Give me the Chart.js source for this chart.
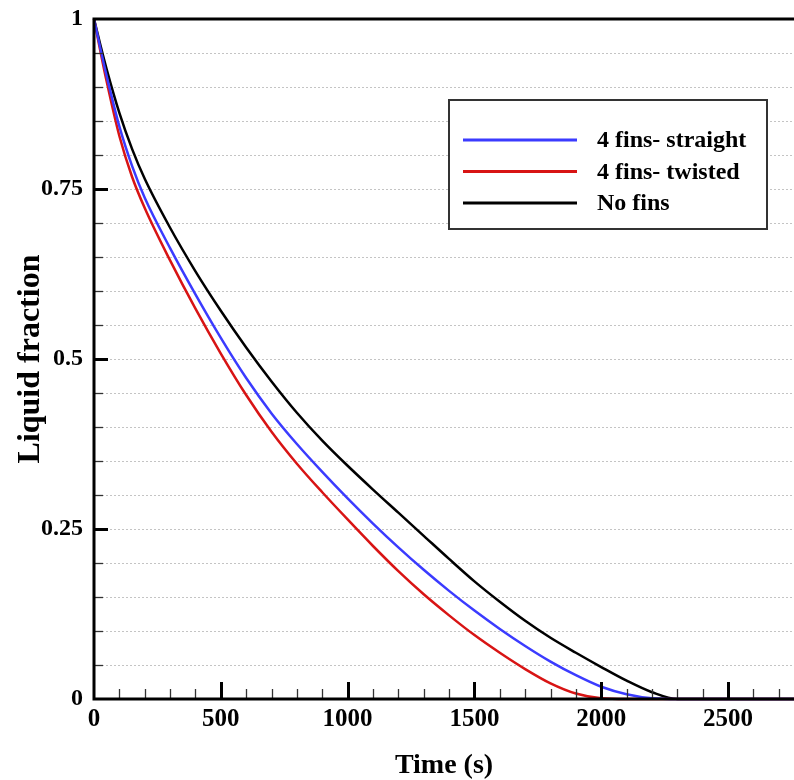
<!DOCTYPE html>
<html>
<head>
<meta charset="utf-8">
<script src="https://cdn.jsdelivr.net/npm/chart.js@4.4.0/dist/chart.umd.min.js"></script>
<style>
  html, body { margin: 0; padding: 0; background: #fff; }
  #wrap { width: 794px; height: 780px; }
</style>
</head>
<body>
<div id="wrap"><canvas id="chart" width="794" height="780"></canvas></div>
<script>
// values
const timeSec = [0, 25, 50, 100, 150, 200, 300, 400, 500, 600, 700, 800, 900, 1000, 1100, 1200, 1300, 1400, 1500, 1600, 1700, 1800, 1900, 2000, 2100, 2200, 2300, 2500, 2760];
const straightFins = [1, 0.957, 0.916, 0.842, 0.784, 0.737, 0.663, 0.595, 0.531, 0.472, 0.42, 0.375, 0.334, 0.295, 0.258, 0.223, 0.19, 0.159, 0.13, 0.103, 0.078, 0.055, 0.035, 0.018, 0.007, 0.001, 0, 0, 0];
const twistedFins = [1, 0.953, 0.908, 0.828, 0.768, 0.722, 0.645, 0.574, 0.508, 0.447, 0.393, 0.346, 0.304, 0.264, 0.225, 0.188, 0.154, 0.123, 0.094, 0.068, 0.044, 0.023, 0.008, 0.001, 0, 0, 0, 0, 0];
const noFins = [1, 0.962, 0.926, 0.862, 0.809, 0.765, 0.693, 0.629, 0.571, 0.517, 0.467, 0.421, 0.38, 0.343, 0.308, 0.274, 0.24, 0.206, 0.173, 0.143, 0.115, 0.09, 0.068, 0.047, 0.027, 0.01, 0, 0, 0];

const seriesLabels = ['4 fins- straight', '4 fins- twisted', 'No fins'];
const seriesColors = ['#3b3bff', '#d81414', '#000000'];
const xTickValues = [0, 500, 1000, 1500, 2000, 2500];
const yTickValues = [0, 0.25, 0.5, 0.75, 1];

const serif = '"Liberation Serif", "Times New Roman", serif';

function toPoints(vals) {
  return timeSec.map((t, i) => ({ x: t, y: vals[i] }));
}

// dotted grid, thick frame and inward ticks like the original plot
const framePlugin = {
  id: 'frame',
  beforeDatasetsDraw(chart) {
    const { ctx, chartArea: a, scales: { y } } = chart;
    ctx.save();
    ctx.strokeStyle = '#c4c4c4';
    ctx.lineWidth = 1;
    ctx.setLineDash([2, 2]);
    for (let i = 1; i < 20; i++) {
      const py = Math.round(y.getPixelForValue(i * 0.05)) + 0.5;
      ctx.beginPath();
      ctx.moveTo(a.left, py);
      ctx.lineTo(a.right, py);
      ctx.stroke();
    }
    ctx.restore();
  },
  afterDatasetsDraw(chart) {
    const { ctx, chartArea: a, scales: { x, y } } = chart;
    ctx.save();

    // x ticks every 100 s, pointing up
    for (let t = 100; t <= 2700; t += 100) {
      const px = Math.round(x.getPixelForValue(t)) + 0.5;
      const major = t % 500 === 0;
      ctx.lineWidth = major ? 3 : 1.3;
      ctx.strokeStyle = major ? '#000' : '#333';
      ctx.beginPath();
      ctx.moveTo(px, a.bottom);
      ctx.lineTo(px, a.bottom - (major ? 17 : 10));
      ctx.stroke();
    }
    // y ticks every 0.05, pointing right
    for (let i = 1; i < 20; i++) {
      const py = Math.round(y.getPixelForValue(i * 0.05)) + 0.5;
      const major = i % 5 === 0;
      ctx.lineWidth = major ? 3 : 1.3;
      ctx.strokeStyle = major ? '#000' : '#333';
      ctx.beginPath();
      ctx.moveTo(a.left, py);
      ctx.lineTo(a.left + (major ? 14 : 9), py);
      ctx.stroke();
    }

    ctx.strokeStyle = '#000';
    ctx.lineWidth = 3;
    ctx.beginPath();
    ctx.moveTo(a.right, a.top);
    ctx.lineTo(a.left, a.top);
    ctx.lineTo(a.left, a.bottom);
    ctx.lineTo(a.right, a.bottom);
    ctx.stroke();
    ctx.restore();
  },
  afterDraw(chart) {
    const ctx = chart.ctx;
    const box = { left: 449, top: 100, width: 318, height: 129 };
    ctx.save();
    ctx.fillStyle = '#fff';
    ctx.fillRect(box.left, box.top, box.width, box.height);
    ctx.strokeStyle = '#333';
    ctx.lineWidth = 2;
    ctx.strokeRect(box.left, box.top, box.width, box.height);

    ctx.font = 'bold 24px ' + serif;
    ctx.textBaseline = 'middle';
    ctx.textAlign = 'left';
    chart.data.datasets.forEach((ds, i) => {
      const ly = 140 + i * 31.5;
      ctx.strokeStyle = ds.borderColor;
      ctx.lineWidth = 3;
      ctx.beginPath();
      ctx.moveTo(463, ly);
      ctx.lineTo(577, ly);
      ctx.stroke();
      ctx.fillStyle = '#000';
      ctx.fillText(ds.label, 597, ly + 1);
    });
    ctx.restore();
  }
};

const ctx = document.getElementById('chart').getContext('2d');
const chart = new Chart(ctx, {
  type: 'line',
  data: {
    datasets: [
      { label: seriesLabels[0], data: toPoints(straightFins), borderColor: seriesColors[0] },
      { label: seriesLabels[1], data: toPoints(twistedFins), borderColor: seriesColors[1] },
      { label: seriesLabels[2], data: toPoints(noFins), borderColor: seriesColors[2] }
    ].map(ds => Object.assign(ds, {
      borderWidth: 2.5,
      pointRadius: 0,
      fill: false,
      cubicInterpolationMode: 'monotone',
      clip: 4
    }))
  },
  options: {
    responsive: false,
    animation: false,
    layout: { padding: { top: 19, right: 0, left: 0, bottom: 0 } },
    plugins: {
      legend: { display: false },
      tooltip: { enabled: false }
    },
    scales: {
      x: {
        type: 'linear',
        min: 0,
        max: 2760,
        afterBuildTicks: s => { s.ticks = xTickValues.map(v => ({ value: v })); },
        afterFit: s => { s.height = 81; s.paddingLeft = 0; s.paddingRight = 0; },
        grid: { display: false, drawTicks: false },
        border: { display: false },
        ticks: {
          padding: 6,
          color: '#000',
          font: { family: serif, size: 25, weight: 'bold' },
          maxRotation: 0,
          callback: v => String(v)
        },
        title: {
          display: true,
          text: 'Time (s)',
          color: '#000',
          font: { family: serif, size: 28, weight: 'bold', lineHeight: 1 },
          padding: { top: 0, bottom: 0 }
        }
      },
      y: {
        type: 'linear',
        min: 0,
        max: 1,
        afterBuildTicks: s => { s.ticks = yTickValues.map(v => ({ value: v })); },
        afterFit: s => { s.width = 94; s.paddingTop = 0; s.paddingBottom = 0; },
        grid: { display: false, drawTicks: false },
        border: { display: false },
        ticks: {
          padding: 11,
          color: '#000',
          font: { family: serif, size: 24, weight: 'bold', lineHeight: 1 },
          callback: v => String(v)
        },
        title: {
          display: true,
          text: 'Liquid fraction',
          color: '#000',
          font: { family: serif, size: 32, weight: 'bold' },
          padding: { top: 12, bottom: 0 }
        }
      }
    }
  },
  plugins: [framePlugin]
});
</script>
</body>
</html>
